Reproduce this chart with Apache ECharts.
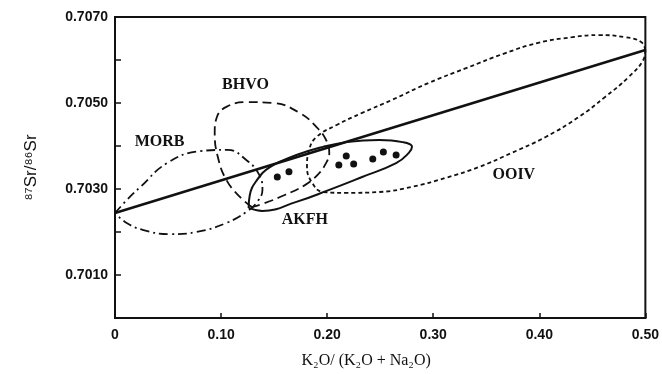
<!DOCTYPE html>
<html>
<head>
<meta charset="utf-8">
<script src="https://cdn.jsdelivr.net/npm/echarts@6/dist/echarts.min.js"></script>
<style>html,body{margin:0;padding:0;background:#fff;}#c{width:662px;height:374px;}</style>
</head>
<body>
<div id="c"></div>
<script>
// ---- data ----
const morb = [[0.000,0.70244],[0.011,0.70274],[0.024,0.70305],[0.049,0.70360],[0.080,0.70388],[0.106,0.70391],[0.124,0.70367],[0.136,0.70333],[0.139,0.70298],[0.134,0.70270],[0.124,0.70247],[0.105,0.70221],[0.077,0.70200],[0.052,0.70195],[0.026,0.70205],[0.011,0.70221],[0.000,0.70244]];
const bhvo = [[0.129,0.70258],[0.118,0.70281],[0.105,0.70321],[0.097,0.70374],[0.094,0.70430],[0.096,0.70467],[0.105,0.70491],[0.124,0.70502],[0.149,0.70500],[0.174,0.70477],[0.190,0.70444],[0.199,0.70414],[0.202,0.70384],[0.198,0.70356],[0.191,0.70333],[0.179,0.70309],[0.160,0.70286],[0.141,0.70267],[0.129,0.70258]];
const akfh = [[0.126,0.70256],[0.139,0.70249],[0.171,0.70270],[0.202,0.70298],[0.233,0.70328],[0.265,0.70360],[0.277,0.70384],[0.280,0.70398],[0.271,0.70409],[0.249,0.70414],[0.218,0.70409],[0.196,0.70398],[0.171,0.70379],[0.146,0.70351],[0.133,0.70318],[0.127,0.70285],[0.126,0.70256]];
const ooiv = [[0.500,0.70623],[0.496,0.70642],[0.481,0.70653],[0.456,0.70658],[0.431,0.70653],[0.399,0.70640],[0.368,0.70616],[0.331,0.70581],[0.296,0.70547],[0.261,0.70507],[0.233,0.70477],[0.209,0.70449],[0.190,0.70421],[0.183,0.70391],[0.181,0.70351],[0.186,0.70314],[0.196,0.70293],[0.218,0.70291],[0.249,0.70293],[0.280,0.70305],[0.312,0.70326],[0.343,0.70351],[0.374,0.70384],[0.406,0.70421],[0.437,0.70467],[0.462,0.70514],[0.484,0.70560],[0.498,0.70600],[0.500,0.70623]];
const mixLine = [[0.0,0.70244],[0.5,0.70623]];
const samples = [[0.153,0.70328],[0.164,0.70340],[0.211,0.70356],[0.218,0.70377],[0.225,0.70358],[0.243,0.70370],[0.253,0.70386],[0.265,0.70379]];
const fieldNames = ['MORB','BHVO','AKFH','OOIV'];
const fieldLabelAt = [[0.042,0.70409],[0.123,0.70542],[0.179,0.70228],[0.376,0.70333]];
const xTicks = [0, 0.1, 0.2, 0.3, 0.4, 0.5];
const yLabelValues = [0.7010, 0.7030, 0.7050, 0.7070];

const chart = echarts.init(document.getElementById('c'), null, {renderer:'canvas'});
const ink = '#111';
const lineSeries = (name, data, type, width) => ({
  name, type:'line', data, symbol:'none', smooth:0.45, silent:true,
  lineStyle:{color:ink, width, type, opacity:1}, z:3
});
chart.setOption({
  animation:false,
  backgroundColor:'#fff',
  grid:{left:115, right:15, top:17, bottom:56, show:true, borderColor:ink, borderWidth:2},
  xAxis:{
    type:'value', min:0, max:0.5, interval:0.1,
    name:'K\u2082O/ (K\u2082O + Na\u2082O)', nameLocation:'middle', nameGap:35,
    nameTextStyle:{fontFamily:'Liberation Serif', fontSize:16, color:ink, padding:[0,28,0,0]},
    axisLine:{show:true, lineStyle:{color:ink, width:2}},
    axisTick:{show:true, inside:true, length:5, lineStyle:{color:ink, width:1.5}},
    axisLabel:{margin:10, fontFamily:'Liberation Sans', fontWeight:'bold', fontSize:14, color:ink,
      formatter:v => { const i = xTicks.findIndex(t => Math.abs(t-v)<1e-9); return i===0 ? '0' : (i>0 ? v.toFixed(2) : ''); }},
    splitLine:{show:false}
  },
  yAxis:{
    type:'value', min:0.700, max:0.707, interval:0.001,
    name:'\u2078\u2077Sr/\u2078\u2076Sr', nameLocation:'middle', nameGap:75, nameRotate:90,
    nameTextStyle:{fontFamily:'Liberation Sans', fontSize:17, color:ink},
    axisLine:{show:true, lineStyle:{color:ink, width:2}},
    axisTick:{show:true, inside:true, length:6, lineStyle:{color:ink, width:1.5}},
    axisLabel:{margin:7, fontFamily:'Liberation Sans', fontWeight:'bold', fontSize:14, color:ink,
      formatter:v => yLabelValues.some(t => Math.abs(t-v)<1e-7) ? v.toFixed(4) : ''},
    splitLine:{show:false}
  },
  series:[
    lineSeries('MORB', morb, [9,4,2,4], 1.8),
    lineSeries('BHVO', bhvo, [9,5], 1.8),
    lineSeries('AKFH', akfh, 'solid', 2),
    lineSeries('OOIV', ooiv, [4,3], 1.8),
    {name:'mixing', type:'line', data:mixLine, symbol:'none', silent:true, lineStyle:{color:ink, width:2.6}, z:4},
    {name:'samples', type:'scatter', data:samples, symbol:'circle', symbolSize:7, itemStyle:{color:ink, opacity:1}, z:5},
    {name:'labels', type:'scatter', symbolSize:0, silent:true, z:6, itemStyle:{opacity:1},
      data:fieldLabelAt.map((p,i)=>({value:p, name:fieldNames[i]})),
      label:{show:true, position:'inside', formatter:p=>p.name, fontFamily:'Liberation Serif', fontWeight:'bold', fontSize:16, color:ink, opacity:1}}
  ]
});
</script>
</body>
</html>
